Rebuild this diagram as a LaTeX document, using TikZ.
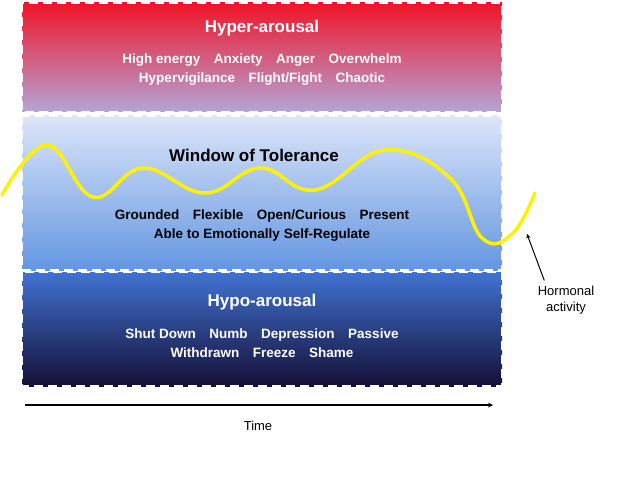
\documentclass[tikz,border=0pt]{standalone}
\usepackage{fontspec}
\setmainfont{Liberation Sans}
\tikzset{band/.style={draw=white,line width=2.5pt,dash pattern=on 9pt off 5pt},
 ttl/.style={font=\bfseries\fontsize{17}{20}\selectfont},
 itm/.style={font=\bfseries\fontsize{13.5}{19}\selectfont,align=center},
 lbl/.style={font=\fontsize{13}{16}\selectfont,align=center}}
\definecolor{r1}{RGB}{240,20,40}\definecolor{r2}{RGB}{180,165,215}
\definecolor{m1}{RGB}{220,230,250}\definecolor{m2}{RGB}{100,150,225}
\definecolor{b1}{RGB}{65,115,210}\definecolor{b2}{RGB}{20,15,55}
\begin{document}
\begin{tikzpicture}[x=1pt,y=-1pt]
\useasboundingbox (0,0) rectangle (639,476);
\shade[top color=r1,bottom color=r2] (22,3) rectangle (502,112);
\shade[top color=m1,bottom color=m2] (22,116) rectangle (502,270);
\shade[top color=b1,bottom color=b2] (22,272) rectangle (502,386);
\draw[band] (22,3) rectangle (502,112);
\draw[band] (22,116) rectangle (502,270);
\draw[band] (22,272) rectangle (502,386);
\node[ttl,white] (t1) at (262,28) {Hyper-arousal};
\node[itm,white] (i1) at (262,70) {High energy\quad Anxiety\quad Anger\quad Overwhelm\\Hypervigilance\quad Flight/Fight\quad Chaotic};
\node[ttl,black] (t2) at (254,155) {Window of Tolerance};
\node[itm,black] (i2) at (262,226) {Grounded\quad Flexible\quad Open/Curious\quad Present\\Able to Emotionally Self-Regulate};
\node[ttl,white] (t3) at (262,302) {Hypo-arousal};
\node[itm,white] (i3) at (262,343) {Shut Down\quad Numb\quad Depression\quad Passive\\Withdrawn\quad Freeze\quad Shame};
\draw[yellow,line width=3.5pt,line cap=round] plot[smooth,tension=0.7] coordinates {(2,195) (47,145) (93,197) (143,168) (205,193) (260,168) (315,190) (385,150) (450,178) (482,238) (512,234) (535,193)};
\node[lbl] (h) at (566,300) {Hormonal\\activity};
\coordinate (hp) at (527,234);
\draw[-stealth,line width=1pt] (h.north west) ++(10,-2) coordinate (hs) (hs) -- (hp);
\coordinate (a0) at (25,405); \coordinate (a1) at (493,405);
\draw[-stealth,line width=1.2pt] (a0) -- (a1);
\node[lbl] (tm) at (258,426) {Time};
\end{tikzpicture}
\end{document}
